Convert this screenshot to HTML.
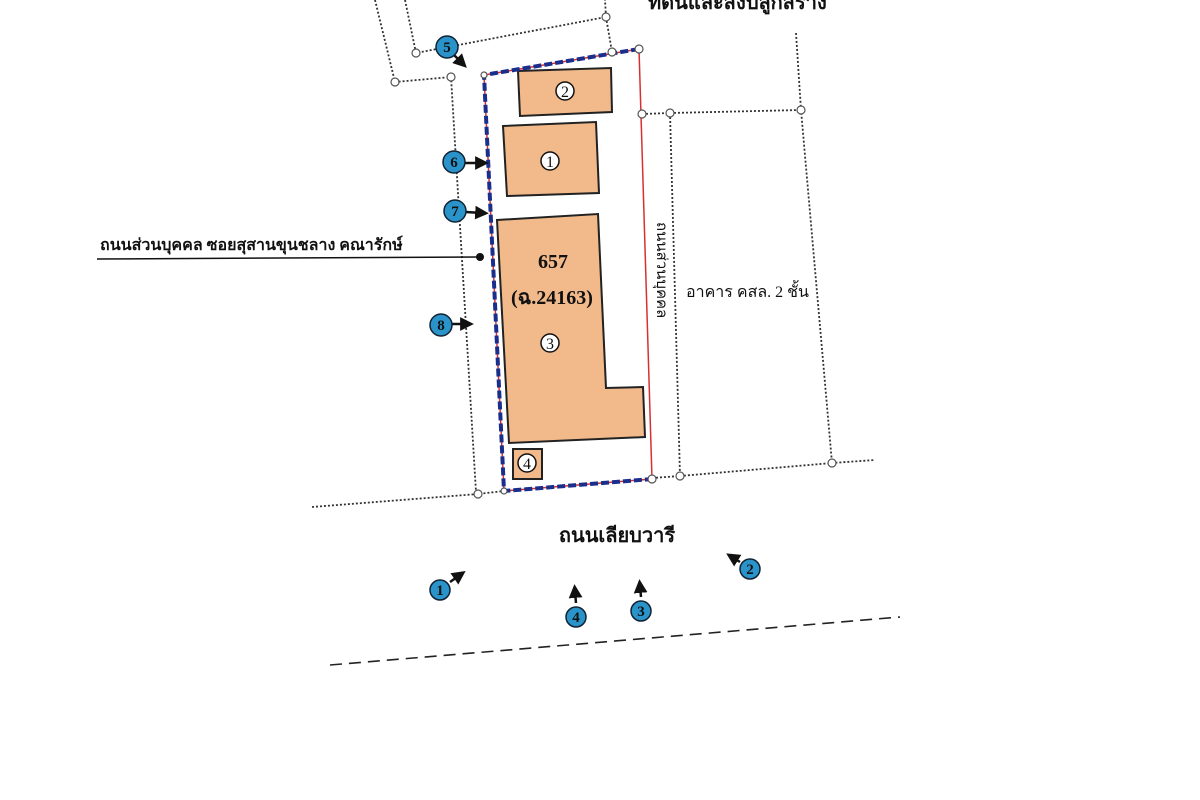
<!DOCTYPE html>
<html><head><meta charset="utf-8"><style>
html,body{margin:0;padding:0;background:#fff;width:1200px;height:800px;overflow:hidden}
svg{display:block}
text{font-family:"Liberation Serif","Noto Serif CJK SC","Noto Sans CJK SC",serif;fill:#111}
</style></head><body>
<svg width="1200" height="800" viewBox="0 0 1200 800">
<defs>
<marker id="ah" viewBox="0 0 10 10" refX="5" refY="5" markerWidth="5.5" markerHeight="5.5" orient="auto"><path d="M0,0 L10,5 L0,10 z" fill="#111"/></marker>
</defs>
<text x="648" y="9" font-size="20" font-weight="bold">ที่ดินและสิ่งปลูกสร้าง</text>
<g stroke="#333" stroke-width="1.8" stroke-dasharray="2,2" fill="none">
<polyline points="375,0 395,82 451,77 476,492"/>
<polyline points="405,0 416,53 606,17 605,0"/>
<polyline points="606,17 612,52"/>
<polyline points="642,114 670,113 801,110"/>
<polyline points="670,113 680,476"/>
<polyline points="796,33 801,110 832,463"/>
<polyline points="312,507 478,494 504,491"/>
<polyline points="652,478 680,476 832,463 875,460"/>
</g>
<g fill="#f2b98a" stroke="#222" stroke-width="2">
<polygon points="518,71 611,68 612,112 520,116"/>
<polygon points="503,126 596,122 599,193 507,196"/>
<polygon points="497,220 598,214 606,388 643,387 645,437 509,443"/>
<rect x="513" y="449" width="29" height="30"/>
</g>
<polygon points="484,75 639,49 652,479 504,491" fill="none" stroke="#d83030" stroke-width="1.5"/>
<polyline points="639,49 484,75 504,491 652,479" fill="none" stroke="#1a2e8c" stroke-width="4" stroke-dasharray="8,3"/>
<g fill="#fff" stroke="#555" stroke-width="1.2">
<circle cx="395" cy="82" r="4"/><circle cx="416" cy="53" r="4"/><circle cx="606" cy="17" r="4"/>
<circle cx="451" cy="77" r="4"/><circle cx="612" cy="52" r="4"/><circle cx="639" cy="49" r="4"/>
<circle cx="642" cy="114" r="4"/><circle cx="670" cy="113" r="4"/><circle cx="801" cy="110" r="4"/>
<circle cx="478" cy="494" r="4"/><circle cx="680" cy="476" r="4"/><circle cx="832" cy="463" r="4"/>
<circle cx="652" cy="479" r="4"/><circle cx="504" cy="491" r="3"/><circle cx="484" cy="75" r="3"/>
</g>
<g fill="#fff" stroke="#111" stroke-width="1.5">
<circle cx="565" cy="91" r="9"/><circle cx="550" cy="161" r="9"/><circle cx="550" cy="343" r="9"/><circle cx="527" cy="463" r="9"/>
</g>
<g font-size="16" text-anchor="middle">
<text x="565" y="97">2</text><text x="550" y="167">1</text><text x="550" y="349">3</text><text x="527" y="469">4</text>
</g>
<text x="553" y="268" font-size="20" font-weight="bold" text-anchor="middle">657</text>
<text x="552" y="304" font-size="20" font-weight="bold" text-anchor="middle">(ฉ.24163)</text>
<line x1="97" y1="259" x2="480" y2="257" stroke="#111" stroke-width="1.5"/>
<circle cx="480" cy="257" r="4" fill="#111"/>
<text x="100" y="250" font-size="16" font-weight="bold">ถนนส่วนบุคคล ซอยสุสานขุนชลาง คณารักษ์</text>
<text x="686" y="297" font-size="16">อาคาร คสล. 2 ชั้น</text>
<text transform="translate(657,222) rotate(90)" font-size="15">ถนนส่วนบุคคล</text>
<text x="617" y="542" font-size="20" font-weight="bold" text-anchor="middle">ถนนเลียบวารี</text>
<line x1="330" y1="665" x2="900" y2="617" stroke="#222" stroke-width="1.6" stroke-dasharray="12,7"/>
<g stroke="#111" stroke-width="2.5" marker-end="url(#ah)">
<line x1="452" y1="53" x2="462" y2="63"/>
<line x1="465" y1="163" x2="482" y2="163"/>
<line x1="466" y1="212" x2="482" y2="213"/>
<line x1="452" y1="324" x2="467" y2="324"/>
<line x1="450" y1="582" x2="460" y2="575"/>
<line x1="740" y1="562" x2="732" y2="557"/>
<line x1="576" y1="603" x2="575" y2="591"/>
<line x1="641" y1="597" x2="640" y2="586"/>
</g>
<g fill="#2a93c9" stroke="#123" stroke-width="1.5">
<circle cx="447" cy="47" r="11"/><circle cx="454" cy="162" r="11"/><circle cx="455" cy="211" r="11"/><circle cx="441" cy="325" r="11"/>
<circle cx="440" cy="590" r="10"/><circle cx="750" cy="569" r="10"/><circle cx="576" cy="617" r="10"/><circle cx="641" cy="611" r="10"/>
</g>
<g font-size="15" font-weight="bold" text-anchor="middle">
<text x="447" y="52">5</text><text x="454" y="167">6</text><text x="455" y="216">7</text><text x="441" y="330">8</text>
<text x="440" y="595">1</text><text x="750" y="574">2</text><text x="576" y="622">4</text><text x="641" y="616">3</text>
</g>
</svg>
</body></html>
